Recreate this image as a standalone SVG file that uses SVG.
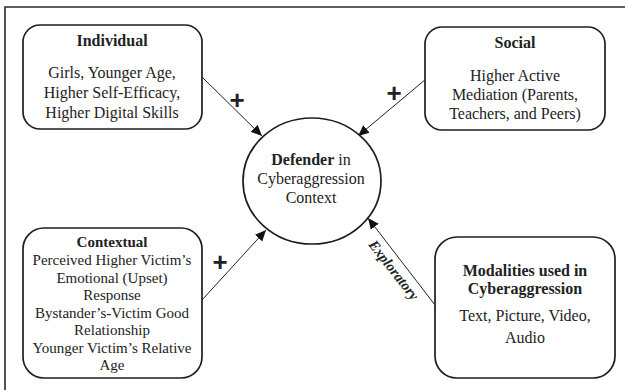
<svg xmlns="http://www.w3.org/2000/svg" width="625" height="390" viewBox="0 0 625 390">
<defs>
<style>
.box{fill:#fff;stroke:#1e1e1e;stroke-width:1.7}
.t{font-family:"Liberation Serif","Times New Roman",serif;font-size:16px;fill:#222;text-anchor:middle}
.s{font-size:15px}
.b{font-weight:bold}
.plus{font-family:"Liberation Sans",Arial,sans-serif;font-size:26px;font-weight:bold;fill:#222;text-anchor:middle}
.edge{stroke:#222;stroke-width:1;fill:none;marker-end:url(#ah)}
</style>
<marker id="ah" viewBox="0 0 10 10" refX="10" refY="5" markerWidth="11" markerHeight="11" markerUnits="userSpaceOnUse" orient="auto">
<path d="M0,0.5 L10,5 L0,9.5 Z" fill="#111"/>
</marker>
</defs>
<rect width="625" height="390" fill="#fff"/>
<path d="M5,390 V7 H625" fill="none" stroke="#2a2a2a" stroke-width="1.6"/>

<g id="connectors">
<line class="edge" x1="202" y1="77" x2="262" y2="136"/>
<line class="edge" x1="426" y1="79" x2="358" y2="136"/>
<line class="edge" x1="202" y1="300" x2="266" y2="230"/>
<line class="edge" x1="435" y1="305" x2="368" y2="218"/>
<text class="plus" x="237" y="109">+</text>
<text class="plus" x="394" y="102">+</text>
<text class="plus" x="220" y="271">+</text>
<text class="t b" style="font-style:italic;font-size:14.5px" transform="translate(390,273) rotate(52)">Exploratory</text>
</g>

<g id="individual">
<rect class="box" x="23" y="25" width="179" height="104" rx="17"/>
<text class="t b" x="112" y="46">Individual</text>
<text class="t" x="112" y="78">Girls, Younger Age,</text>
<text class="t" x="112" y="98">Higher Self-Efficacy,</text>
<text class="t" x="112" y="118">Higher Digital Skills</text>
</g>

<g id="social">
<rect class="box" x="425" y="27" width="180" height="103" rx="17"/>
<text class="t b" x="515" y="48">Social</text>
<text class="t" x="515" y="81">Higher Active</text>
<text class="t" x="515" y="100">Mediation (Parents,</text>
<text class="t" x="515" y="119">Teachers, and Peers)</text>
</g>

<g id="defender">
<ellipse class="box" cx="312" cy="181" rx="69" ry="63"/>
<text class="t" x="311" y="165"><tspan class="b">Defender</tspan> in</text>
<text class="t" x="311" y="184">Cyberaggression</text>
<text class="t" x="311" y="203">Context</text>
</g>

<g id="contextual">
<rect class="box" x="23" y="228" width="179" height="150" rx="21"/>
<text class="t s b" x="112" y="247">Contextual</text>
<text class="t s" x="112" y="265">Perceived Higher Victim’s</text>
<text class="t s" x="112" y="282.5">Emotional (Upset)</text>
<text class="t s" x="112" y="300">Response</text>
<text class="t s" x="112" y="317.5">Bystander’s<tspan class="b">-</tspan>Victim Good</text>
<text class="t s" x="112" y="335">Relationship</text>
<text class="t s" x="112" y="352.5">Younger Victim’s Relative</text>
<text class="t s" x="112" y="370">Age</text>
</g>

<g id="modalities">
<rect class="box" x="435" y="237" width="180" height="141" rx="22"/>
<text class="t b" x="525" y="276">Modalities used in</text>
<text class="t b" x="525" y="294">Cyberaggression</text>
<text class="t" x="525" y="321">Text, Picture, Video,</text>
<text class="t" x="525" y="343">Audio</text>
</g>
</svg>
